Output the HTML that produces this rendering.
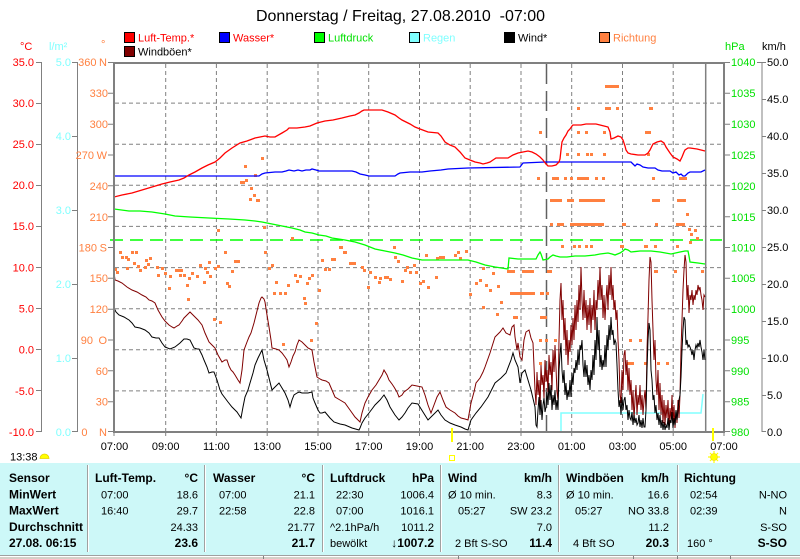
<!DOCTYPE html>
<html><head><meta charset="utf-8"><style>
html,body{margin:0;padding:0;background:#fff;width:800px;height:559px;overflow:hidden}
svg{display:block}
text{font-family:"Liberation Sans",Arial,sans-serif}
</style></head><body>
<svg width="800" height="559" viewBox="0 0 800 559" xmlns="http://www.w3.org/2000/svg">
<rect width="800" height="559" fill="#fff"/>
<!-- title -->
<text x="400.5" y="21" font-size="16" text-anchor="middle" fill="#000">Donnerstag / Freitag, 27.08.2010 &#160;-07:00</text>
<!-- legend -->
<g font-size="11">
<rect x="124.5" y="32.5" width="10" height="10" fill="#ff0000" stroke="#000"/><text x="138" y="41.5" fill="#ff0000">Luft-Temp.*</text>
<rect x="219.5" y="32.5" width="10" height="10" fill="#0000ff" stroke="#000"/><text x="233" y="41.5" fill="#ff0000">Wasser*</text>
<rect x="314.5" y="32.5" width="10" height="10" fill="#00ff00" stroke="#000"/><text x="328" y="41.5" fill="#00e000">Luftdruck</text>
<rect x="409.5" y="32.5" width="10" height="10" fill="#80ffff" stroke="#000"/><text x="423" y="41.5" fill="#80ffff">Regen</text>
<rect x="504.5" y="32.5" width="10" height="10" fill="#000" stroke="#000"/><text x="518" y="41.5" fill="#000">Wind*</text>
<rect x="599.5" y="32.5" width="10" height="10" fill="#ff8040" stroke="#000"/><text x="613" y="41.5" fill="#ff8040">Richtung</text>
<rect x="124.5" y="46.5" width="10" height="10" fill="#800000" stroke="#000"/><text x="138" y="55.5" fill="#000">Windböen*</text>
</g>
<!-- axis headers -->
<g font-size="11">
<text x="20" y="50" fill="#ff0000">°C</text>
<text x="49" y="50" fill="#80ffff">l/m²</text>
<text x="101" y="48" fill="#ff8040">°</text>
<text x="725" y="50" fill="#00e000">hPa</text>
<text x="762" y="50" fill="#000">km/h</text>
</g>
<!-- grid -->
<g stroke="#808080" stroke-width="1" stroke-dasharray="4,3" fill="none">
<line x1="115" x2="723" y1="103.1" y2="103.1"/>
<line x1="115" x2="723" y1="144.2" y2="144.2"/>
<line x1="115" x2="723" y1="185.3" y2="185.3"/>
<line x1="115" x2="723" y1="226.4" y2="226.4"/>
<line x1="115" x2="723" y1="267.6" y2="267.6"/>
<line x1="115" x2="723" y1="308.7" y2="308.7"/>
<line x1="115" x2="723" y1="349.8" y2="349.8"/>
<line x1="115" x2="723" y1="390.9" y2="390.9"/>
<line x1="165.7" x2="165.7" y1="64" y2="431"/>
<line x1="216.4" x2="216.4" y1="64" y2="431"/>
<line x1="267.2" x2="267.2" y1="64" y2="431"/>
<line x1="318" x2="318" y1="64" y2="431"/>
<line x1="368.7" x2="368.7" y1="64" y2="431"/>
<line x1="419.5" x2="419.5" y1="64" y2="431"/>
<line x1="470.2" x2="470.2" y1="64" y2="431"/>
<line x1="521" x2="521" y1="64" y2="431"/>
<line x1="571.7" x2="571.7" y1="64" y2="431"/>
<line x1="622.5" x2="622.5" y1="64" y2="431"/>
<line x1="673.2" x2="673.2" y1="64" y2="431"/>
</g>
<!-- midnight & now lines -->
<line x1="546.5" x2="546.5" y1="64" y2="431" stroke="#606060" stroke-width="1.5" stroke-dasharray="20,7"/>
<line x1="705.7" x2="705.7" y1="64" y2="431" stroke="#808080" stroke-width="1.5"/>
<!-- average pressure dashed -->
<line x1="110" x2="722" y1="240" y2="240" stroke="#00ff00" stroke-width="1.6" stroke-dasharray="13,7"/>
<defs><clipPath id="pc"><rect x="115" y="64" width="608" height="367"/></clipPath></defs>
<g clip-path="url(#pc)">
<!-- rain -->
<path d="M561,432 V413 H701 L703,394" stroke="#80ffff" stroke-width="1.5" fill="none"/>
<!-- direction dots -->
<g fill="#ff8040">
<rect x="114" y="268" width="3" height="3"/><rect x="116" y="271" width="3" height="3"/><rect x="119" y="251" width="3" height="3"/><rect x="121" y="256" width="3" height="3"/><rect x="125" y="256" width="3" height="3"/><rect x="127" y="258" width="3" height="3"/><rect x="131" y="251" width="3" height="3"/><rect x="135" y="251" width="3" height="3"/><rect x="133" y="262" width="3" height="3"/><rect x="137" y="265" width="3" height="3"/><rect x="144" y="266" width="3" height="3"/><rect x="145" y="259" width="3" height="3"/><rect x="147" y="263" width="3" height="3"/><rect x="156" y="266" width="3" height="3"/><rect x="149" y="257" width="3" height="3"/><rect x="161" y="267" width="3" height="3"/><rect x="164" y="272" width="3" height="3"/><rect x="169" y="275" width="3" height="3"/><rect x="168" y="287" width="3" height="3"/><rect x="177" y="269" width="3" height="3"/><rect x="180" y="269" width="3" height="3"/><rect x="179" y="274" width="3" height="3"/><rect x="183" y="274" width="3" height="3"/><rect x="186" y="284" width="3" height="3"/><rect x="187" y="298" width="3" height="3"/><rect x="188" y="277" width="3" height="3"/><rect x="191" y="272" width="3" height="3"/><rect x="196" y="275" width="3" height="3"/><rect x="199" y="264" width="3" height="3"/><rect x="203" y="281" width="3" height="3"/><rect x="206" y="271" width="3" height="3"/><rect x="208" y="261" width="3" height="3"/><rect x="209" y="275" width="3" height="3"/><rect x="214" y="267" width="3" height="3"/><rect x="217" y="265" width="3" height="3"/><rect x="213" y="318" width="3" height="3"/><rect x="219" y="321" width="3" height="3"/><rect x="217" y="229" width="3" height="3"/><rect x="224" y="251" width="3" height="3"/><rect x="226" y="282" width="3" height="3"/><rect x="228" y="285" width="3" height="3"/><rect x="234" y="260" width="6" height="3"/><rect x="240" y="181" width="5" height="3"/><rect x="244" y="165" width="3" height="3"/><rect x="245" y="179" width="3" height="3"/><rect x="250" y="187" width="3" height="3"/><rect x="253" y="194" width="3" height="3"/><rect x="249" y="198" width="3" height="3"/><rect x="256" y="199" width="4" height="3"/><rect x="254" y="174" width="3" height="3"/><rect x="261" y="157" width="3" height="3"/><rect x="263" y="226" width="3" height="3"/><rect x="264" y="251" width="3" height="3"/><rect x="268" y="267" width="3" height="3"/><rect x="271" y="264" width="3" height="3"/><rect x="275" y="281" width="3" height="3"/><rect x="273" y="292" width="3" height="3"/><rect x="279" y="292" width="3" height="3"/><rect x="284" y="292" width="3" height="3"/><rect x="287" y="284" width="3" height="3"/><rect x="291" y="237" width="3" height="3"/><rect x="294" y="274" width="3" height="3"/><rect x="296" y="280" width="3" height="3"/><rect x="299" y="275" width="3" height="3"/><rect x="303" y="297" width="3" height="3"/><rect x="304" y="302" width="3" height="3"/><rect x="308" y="277" width="3" height="3"/><rect x="311" y="274" width="3" height="3"/><rect x="306" y="282" width="3" height="3"/><rect x="318" y="289" width="3" height="3"/><rect x="315" y="322" width="3" height="3"/><rect x="310" y="339" width="3" height="3"/><rect x="282" y="343" width="3" height="3"/><rect x="321" y="259" width="3" height="3"/><rect x="324" y="268" width="3" height="3"/><rect x="328" y="268" width="3" height="3"/><rect x="331" y="258" width="5" height="3"/><rect x="339" y="246" width="4" height="3"/><rect x="343" y="251" width="4" height="3"/><rect x="349" y="262" width="7" height="3"/><rect x="361" y="266" width="3" height="3"/><rect x="363" y="269" width="3" height="3"/><rect x="367" y="286" width="3" height="3"/><rect x="369" y="271" width="3" height="3"/><rect x="374" y="276" width="3" height="3"/><rect x="378" y="281" width="3" height="3"/><rect x="379" y="277" width="3" height="3"/><rect x="384" y="276" width="5" height="3"/><rect x="389" y="278" width="3" height="3"/><rect x="393" y="246" width="3" height="3"/><rect x="394" y="256" width="3" height="3"/><rect x="397" y="260" width="3" height="3"/><rect x="401" y="280" width="3" height="3"/><rect x="404" y="269" width="3" height="3"/><rect x="406" y="266" width="3" height="3"/><rect x="409" y="271" width="3" height="3"/><rect x="413" y="264" width="3" height="3"/><rect x="415" y="271" width="3" height="3"/><rect x="419" y="282" width="3" height="3"/>
<rect x="126" y="267" width="3" height="3"/><rect x="139" y="269" width="3" height="3"/><rect x="157" y="274" width="3" height="3"/><rect x="175" y="269" width="3" height="3"/><rect x="204" y="267" width="3" height="3"/><rect x="231" y="270" width="3" height="3"/>
<rect x="612" y="61" width="4" height="3"/><rect x="605" y="85" width="14" height="3"/>
<rect x="577" y="107" width="3" height="3"/><rect x="605" y="107" width="3" height="3"/><rect x="608" y="107" width="3" height="3"/><rect x="616" y="107" width="3" height="3"/><rect x="649" y="107" width="4" height="3"/>
<rect x="539" y="131" width="3" height="3"/><rect x="577" y="131" width="3" height="3"/><rect x="585" y="131" width="3" height="3"/><rect x="603" y="131" width="3" height="3"/><rect x="645" y="131" width="6" height="3"/>
<rect x="566" y="153" width="3" height="3"/><rect x="577" y="153" width="3" height="3"/><rect x="586" y="153" width="3" height="3"/><rect x="590" y="153" width="3" height="3"/><rect x="603" y="153" width="3" height="3"/><rect x="647" y="153" width="3" height="3"/>
<rect x="537" y="177" width="3" height="3"/><rect x="552" y="177" width="7" height="3"/><rect x="564" y="177" width="3" height="3"/><rect x="570" y="177" width="3" height="3"/><rect x="577" y="177" width="12" height="3"/><rect x="595" y="177" width="3" height="3"/><rect x="602" y="177" width="3" height="3"/><rect x="652" y="177" width="3" height="3"/><rect x="679" y="177" width="8" height="3"/>
<rect x="550" y="199" width="12" height="3"/><rect x="567" y="199" width="7" height="3"/><rect x="579" y="199" width="26" height="3"/><rect x="652" y="199" width="8" height="3"/><rect x="677" y="199" width="9" height="3"/>
<rect x="686" y="213" width="3" height="3"/>
<rect x="550" y="223" width="3" height="3"/><rect x="557" y="223" width="7" height="3"/><rect x="570" y="223" width="34" height="3"/><rect x="622" y="223" width="4" height="3"/><rect x="655" y="223" width="3" height="3"/><rect x="676" y="223" width="9" height="3"/>
<rect x="688" y="228" width="3" height="3"/><rect x="694" y="229" width="3" height="3"/><rect x="690" y="233" width="3" height="3"/><rect x="696" y="237" width="3" height="3"/><rect x="689" y="241" width="3" height="3"/>
<rect x="561" y="245" width="3" height="3"/><rect x="573" y="245" width="3" height="3"/><rect x="578" y="245" width="3" height="3"/><rect x="585" y="245" width="3" height="3"/><rect x="590" y="245" width="3" height="3"/><rect x="620" y="245" width="4" height="3"/><rect x="644" y="245" width="4" height="3"/><rect x="654" y="245" width="3" height="3"/><rect x="676" y="245" width="3" height="3"/>
<rect x="439" y="256" width="3" height="3"/><rect x="442" y="256" width="3" height="3"/><rect x="435" y="276" width="3" height="3"/><rect x="457" y="251" width="3" height="3"/><rect x="465" y="250" width="3" height="3"/><rect x="482" y="267" width="3" height="3"/><rect x="492" y="272" width="3" height="3"/><rect x="475" y="282" width="3" height="3"/><rect x="479" y="279" width="3" height="3"/><rect x="485" y="284" width="3" height="3"/><rect x="489" y="289" width="3" height="3"/><rect x="497" y="285" width="3" height="3"/><rect x="469" y="293" width="3" height="3"/><rect x="500" y="301" width="3" height="3"/><rect x="482" y="306" width="3" height="3"/><rect x="496" y="313" width="3" height="3"/><rect x="422" y="280" width="3" height="3"/><rect x="427" y="286" width="3" height="3"/><rect x="436" y="257" width="3" height="3"/><rect x="425" y="254" width="3" height="3"/><rect x="454" y="254" width="3" height="3"/><rect x="459" y="257" width="3" height="3"/>
<rect x="507" y="270" width="8" height="3"/><rect x="522" y="270" width="12" height="3"/><rect x="547" y="270" width="5" height="3"/><rect x="654" y="270" width="4" height="3"/><rect x="674" y="270" width="3" height="3"/><rect x="701" y="270" width="3" height="3"/>
<rect x="510" y="292" width="25" height="3"/><rect x="540" y="292" width="4" height="3"/><rect x="546" y="292" width="3" height="3"/>
<rect x="513" y="316" width="5" height="3"/><rect x="540" y="316" width="7" height="3"/>
<rect x="539" y="339" width="3" height="3"/><rect x="545" y="339" width="3" height="3"/><rect x="554" y="339" width="3" height="3"/><rect x="629" y="339" width="3" height="3"/><rect x="639" y="339" width="3" height="3"/>
<rect x="539" y="362" width="3" height="3"/><rect x="627" y="362" width="7" height="3"/><rect x="644" y="362" width="3" height="3"/><rect x="657" y="362" width="3" height="3"/><rect x="666" y="362" width="3" height="3"/>
</g>
<!-- pressure -->
<polyline fill="none" stroke="#00ff00" stroke-width="1.3" points="114,209 129,211 140,211 152,212 165,214 175,216 190,217 209,218 229,219 245,220 255,221 262,222 272,224 282,226 292,228 300,230 305,232 312,233 319,235 326,236 332,238 345,240 355,242 365,245 370,247 375,249 385,251 395,253 403,255 412,258 422,260 440,260 468,260 476,262 485,265 495,267 508,269 509,258 518,259 530,259 536,259 538,255 540,252 541,254 543,260 548,259 550,257 553,255 556,256 560,257 567,257 575,256 585,256 595,255 600,254 608,253 612,254 615,255 620,253 623,251 625,249 628,250 631,252 640,251 651,251 660,252 671,254 680,252 685,251 688,251 689,256 690,262 698,263 705,264"/>
<!-- water -->
<polyline fill="none" stroke="#0000ff" stroke-width="1.3" points="114,176 259,176 262,174 265,173 275,172 282,172 286,171 289,170 294,171 298,170 302,171 306,170 310,170 312,169 316,170 319,171 352,171 356,172 360,174 365,175 369,176 395,176 398,174 400,173 410,172 422,172 430,171 441,170 448,169 468,168 520,167 523,163 545,162 631,162 633,164 635,166 637,164 640,165 643,167 648,168 655,168 658,170 662,171 666,171 670,171 673,173 676,172 679,175 681,174 683,176 685,176 688,173 690,172 701,172 705,170"/>
<!-- temp -->
<polyline fill="none" stroke="#ff0000" stroke-width="1.3" points="114,197 122,195 132,193 142,190 152,187 162,184 170,182 179,180 184,178 189,175 195,172 202,168 208,165 215,162 220,158 225,153 232,148 240,143 247,141 255,138 260,137 265,136 270,137 275,137 282,133 287,130 289,128 297,128 305,127 310,126 317,123 325,121 333,120 342,118 350,116 355,115 359,113 362,111 364,110 372,110 382,110 388,112 395,115 399,118 402,120 406,122 410,124 415,127 420,129 428,132 438,133 441,136 445,142 450,145 455,147 460,152 465,158 470,160 475,162 480,163 483,164 487,163 490,162 493,160 496,158 502,158 508,158 513,155 518,153 523,152 528,151 532,152 536,154 540,157 543,160 546,164 548,166 552,166 556,165 559,162 560,159 561,150 562,142 564,138 566,135 568,131 570,129 572,126 573,125 577,125 581,125 586,124 591,124 596,124 600,125 604,126 608,127 610,132 611,139 614,138 618,136 621,137 623,140 625,146 626,150 628,153 631,154 638,155 645,155 648,153 650,150 652,146 653,144 657,142 661,141 664,143 666,147 670,153 673,157 677,159 680,161 682,157 684,152 685,150 688,148 690,148 697,149 705,151"/>
<!-- gusts -->
<polyline fill="none" stroke="#800000" stroke-width="1" points="114,272 115,280 118,281 122,283 127,287 132,290 137,292 142,295 146,297 149,300 152,301 155,303 158,310 162,317 165,321 169,325 172,327 174,328 177,326 179,325 182,321 184,318 187,315 190,312 192,314 195,317 198,320 202,325 205,333 209,342 212,345 215,348 218,355 222,362 225,360 227,360 229,366 231,370 233,372 235,375 238,380 240,383 242,370 244,350 247,342 249,337 251,333 254,323 256,315 259,303 261,298 262,297 264,299 265,302 267,315 269,327 271,340 272,348 276,349 279,350 282,353 285,357 287,360 289,367 291,362 293,356 295,352 297,345 299,340 302,342 305,345 308,348 312,350 314,362 317,377 320,379 322,380 326,381 329,383 332,390 335,397 340,400 345,403 350,410 355,417 358,420 360,422 362,413 365,403 368,397 372,390 376,385 379,380 382,375 384,370 387,375 389,380 392,384 394,387 397,392 399,397 402,395 404,392 408,389 412,385 417,386 422,387 425,395 428,405 431,413 434,405 437,397 440,392 443,400 446,407 450,410 455,413 458,416 461,418 465,419 468,420 471,403 474,392 476,383 480,378 483,372 485,367 490,353 495,337 500,332 503,328 506,333 510,335 512,327 514,325 515,337 517,350 518,343 520,357 522,360 524,340 526,332 529,330 531,338 533,343 535,390 536,405 537,372 538,395 539,380 540,410 541,365 542,385 543,375 544,398 545,360 546,382 547,370 548,392 549,355 550,375 551,362 552,390 553,350 554,372 555,345 556,368 557,392 558,400 559,340 560,300 561,283 562,320 563,300 564,340 565,318 566,355 567,330 568,365 569,340 570,352 571,325 572,345 573,318 574,340 575,305 576,330 577,300 578,322 579,285 580,310 581,267 582,300 583,320 584,290 585,318 586,300 587,330 588,305 589,325 590,298 591,333 592,305 593,320 594,290 595,330 596,300 597,310 598,280 599,300 600,267 601,300 602,285 603,318 604,295 605,320 606,300 607,285 608,310 609,275 610,295 611,267 612,300 613,285 614,310 615,300 616,320 617,310 618,340 619,360 620,395 621,403 622,370 623,390 624,355 625,350 626,375 627,360 628,390 629,368 630,395 631,380 632,410 633,390 634,420 635,400 636,385 637,415 638,395 639,405 640,385 641,410 642,395 643,415 644,400 645,390 646,410 647,350 648,317 649,280 650,257 651,262 652,300 653,330 654,360 655,340 656,380 657,395 658,370 659,410 660,383 661,415 662,395 663,423 664,400 665,425 666,405 667,418 668,400 669,427 670,408 671,420 672,395 673,425 674,405 675,428 676,410 677,423 678,400 679,418 680,395 681,350 682,320 683,290 684,270 685,255 686,262 687,300 688,285 689,313 690,295 691,300 692,290 693,305 694,295 695,300 696,290 697,295 698,285 699,290 700,287 701,295 702,300 703,310 704,295 705,297"/>
<!-- wind -->
<polyline fill="none" stroke="#000" stroke-width="1" points="114,308 116,312 119,315 124,317 129,320 132,323 135,327 140,328 145,330 149,333 152,337 156,338 159,338 162,343 165,347 170,349 175,347 180,343 184,339 187,339 190,340 192,344 194,348 197,349 199,349 202,355 204,360 207,367 209,373 212,372 214,372 217,380 220,390 222,394 225,398 228,402 232,407 235,410 237,412 239,415 241,418 243,407 245,397 248,390 250,383 253,373 255,365 258,358 262,350 264,360 267,370 270,382 272,390 275,387 279,383 282,388 285,393 288,400 290,407 292,400 294,395 297,393 299,392 302,393 305,393 308,393 312,392 313,398 315,403 318,410 320,413 322,413 325,412 330,418 334,422 340,424 345,425 352,428 359,430 360,428 362,423 365,418 369,413 372,409 375,405 380,400 384,395 387,400 390,407 395,415 399,420 402,417 405,413 408,408 412,403 418,404 423,412 428,420 433,415 438,410 441,415 445,420 450,423 455,425 461,427 465,429 468,430 471,420 476,413 481,407 488,397 495,383 501,378 506,373 511,360 513,353 515,360 518,367 520,383 522,373 525,370 528,380 531,390 535,407 536,425 537,427 538,410 539,397 540,415 541,400 542,420 543,405 544,398 545,412 546,407 547,392 548,405 549,383 550,400 551,385 552,410 553,395 554,405 555,390 556,410 557,400 558,410 559,370 560,355 561,343 562,370 563,383 564,370 565,395 566,383 567,400 568,390 569,397 570,380 571,397 572,373 573,385 574,368 575,373 576,360 577,370 578,350 579,365 580,345 581,350 582,340 583,365 584,377 585,360 586,377 587,365 588,385 589,375 590,390 591,370 592,380 593,355 594,375 595,340 596,360 597,317 598,350 599,330 600,367 601,355 602,370 603,360 604,367 605,345 606,367 607,335 608,350 609,325 610,340 611,317 612,335 613,330 614,345 615,340 616,343 617,365 618,390 619,407 620,400 621,415 622,397 623,410 624,400 625,397 626,410 627,405 628,420 629,410 630,418 631,420 632,412 633,425 634,415 635,423 636,418 637,425 638,423 639,415 640,427 641,420 642,428 643,418 644,427 645,427 646,410 647,370 648,340 649,323 650,330 651,370 652,380 653,400 654,395 655,413 656,405 657,420 658,413 659,425 660,415 661,428 662,420 663,430 664,422 665,430 666,425 667,428 668,418 669,430 670,420 671,423 672,412 673,428 674,418 675,425 676,410 677,420 678,410 679,400 680,395 681,377 682,350 683,330 684,317 685,320 686,345 687,340 688,347 689,345 690,347 691,350 692,355 693,350 694,360 695,350 696,345 697,348 698,343 699,347 700,340 701,347 702,352 703,360 704,350 705,360"/>
</g>
<!-- frame -->
<rect x="114" y="63" width="610" height="369" fill="none" stroke="#808080" stroke-width="2"/>
<!-- left axes -->
<g stroke="#808080" stroke-width="1" fill="none">
<line x1="41.5" x2="41.5" y1="62" y2="432"/>
<line x1="77.5" x2="77.5" y1="62" y2="432"/>
<line x1="762" x2="762" y1="62" y2="432"/>
<line x1="757" x2="762" y1="62.5" y2="62.5"/>
<path d="M36,62.5h6M36,103.5h6M36,144.5h6M36,185.5h6M36,226.5h6M36,267.5h6M36,308.5h6M36,349.5h6M36,390.5h6M36,431.5h6"/>
<path d="M72,62.5h6M72,136.5h6M72,210.5h6M72,284.5h6M72,358.5h6M72,431.5h6"/>
<path d="M108,62.5h6M108,93.3h6M108,124.2h6M108,155h6M108,185.8h6M108,216.7h6M108,247.5h6M108,278.3h6M108,309.2h6M108,340h6M108,370.8h6M108,401.7h6M108,431.5h6"/>
<path d="M725,62.5h5M725,93.3h5M725,124.2h5M725,155h5M725,185.8h5M725,216.7h5M725,247.5h5M725,278.3h5M725,309.2h5M725,340h5M725,370.8h5M725,401.7h5M725,431.5h5"/>
<path d="M762,62.5h4M762,99.5h4M762,136.5h4M762,173.5h4M762,210.5h4M762,247.5h4M762,284.5h4M762,321.5h4M762,358.5h4M762,395.5h4M762,431.5h4"/>
<path d="M114,433v3M165.7,433v3M216.4,433v3M267.2,433v3M318,433v3M368.7,433v3M419.5,433v3M470.2,433v3M521,433v3M571.7,433v3M622.5,433v3M673.2,433v3M724,433v3"/>
</g>
<g font-size="11" fill="#ff0000" text-anchor="end">
<text x="34" y="66">35.0</text><text x="34" y="107">30.0</text><text x="34" y="148">25.0</text><text x="34" y="189">20.0</text><text x="34" y="230">15.0</text><text x="34" y="271.5">10.0</text><text x="34" y="312.5">5.0</text><text x="34" y="353.5">0.0</text><text x="34" y="395">-5.0</text><text x="34" y="436">-10.0</text>
</g>
<g font-size="11" fill="#80ffff" text-anchor="end">
<text x="71" y="66">5.0</text><text x="71" y="140">4.0</text><text x="71" y="214">3.0</text><text x="71" y="288">2.0</text><text x="71" y="362">1.0</text><text x="71" y="436">0.0</text>
</g>
<g font-size="11" fill="#ff8040" text-anchor="end">
<text x="96.5" y="66">360</text><text x="107" y="66">N</text>
<text x="108" y="97">330</text><text x="108" y="128">300</text>
<text x="94" y="159">270</text><text x="107" y="159">W</text>
<text x="108" y="190">240</text><text x="108" y="221">210</text>
<text x="97" y="251.5">180</text><text x="107" y="251.5">S</text>
<text x="108" y="282">150</text><text x="108" y="313">120</text>
<text x="93" y="344">90</text><text x="107" y="344">O</text>
<text x="108" y="375">60</text><text x="108" y="405.5">30</text>
<text x="87.5" y="436">0</text><text x="107" y="436">N</text>
</g>
<g font-size="11" fill="#00e000">
<text x="731" y="66">1040</text><text x="731" y="97">1035</text><text x="731" y="128">1030</text><text x="731" y="159">1025</text><text x="731" y="190">1020</text><text x="731" y="221">1015</text><text x="731" y="251.5">1010</text><text x="731" y="282">1005</text><text x="731" y="313">1000</text><text x="731" y="344">995</text><text x="731" y="375">990</text><text x="731" y="405.5">985</text><text x="731" y="436">980</text>
</g>
<g font-size="11" fill="#000">
<text x="767" y="66">50.0</text><text x="767" y="103">45.0</text><text x="767" y="140">40.0</text><text x="767" y="177">35.0</text><text x="767" y="214">30.0</text><text x="767" y="251">25.0</text><text x="767" y="288">20.0</text><text x="767" y="325">15.0</text><text x="767" y="362">10.0</text><text x="767" y="399">5.0</text><text x="767" y="436">0.0</text>
</g>
<!-- x labels -->
<g font-size="11" fill="#000" text-anchor="middle">
<text x="114.5" y="450">07:00</text><text x="165.7" y="450">09:00</text><text x="216.4" y="450">11:00</text><text x="267.2" y="450">13:00</text><text x="318" y="450">15:00</text><text x="368.7" y="450">17:00</text><text x="419.5" y="450">19:00</text><text x="470.2" y="450">21:00</text><text x="521" y="450">23:00</text><text x="571.7" y="450">01:00</text><text x="622.5" y="450">03:00</text><text x="673.2" y="450">05:00</text><text x="724" y="450">07:00</text>
</g>
<!-- yellow markers -->
<rect x="451" y="428" width="2" height="14" fill="#ffff00"/>
<rect x="712" y="428" width="2" height="13" fill="#ffff00"/>
<text x="10" y="460.5" font-size="11" fill="#000">13:38</text>
<path d="M40,458.5 A4.5,4.5 0 0 1 49,458.5 Z" fill="#ffff00" stroke="#e8d000" stroke-width="0.8"/>
<rect x="449.5" y="455.5" width="5" height="5" fill="none" stroke="#ffff00" stroke-width="1"/>
<g stroke="#ffff00" stroke-width="1.2">
<line x1="714" y1="451" x2="714" y2="463"/><line x1="708" y1="457" x2="720" y2="457"/><line x1="710" y1="453" x2="718" y2="461"/><line x1="718" y1="453" x2="710" y2="461"/>
</g>
<circle cx="714" cy="457" r="3.5" fill="#ffff00" stroke="#f0d000" stroke-width="0.6"/>
<!-- bottom panel -->
<rect x="0" y="463" width="800" height="92" fill="#cdf8f8"/>
<g stroke-width="1">
<line x1="87.5" x2="87.5" y1="465" y2="552" stroke="#a0a0a0"/><line x1="88.5" x2="88.5" y1="465" y2="552" stroke="#fff"/>
<line x1="204.5" x2="204.5" y1="465" y2="552" stroke="#a0a0a0"/><line x1="205.5" x2="205.5" y1="465" y2="552" stroke="#fff"/>
<line x1="322.5" x2="322.5" y1="465" y2="552" stroke="#a0a0a0"/><line x1="323.5" x2="323.5" y1="465" y2="552" stroke="#fff"/>
<line x1="440.5" x2="440.5" y1="465" y2="552" stroke="#a0a0a0"/><line x1="441.5" x2="441.5" y1="465" y2="552" stroke="#fff"/>
<line x1="558.5" x2="558.5" y1="465" y2="552" stroke="#a0a0a0"/><line x1="559.5" x2="559.5" y1="465" y2="552" stroke="#fff"/>
<line x1="677.5" x2="677.5" y1="465" y2="552" stroke="#a0a0a0"/><line x1="678.5" x2="678.5" y1="465" y2="552" stroke="#fff"/>
</g>
<rect x="0" y="555" width="800" height="4" fill="#d4d0c8"/>
<line x1="0" x2="800" y1="555.5" y2="555.5" stroke="#a0a0a0"/>
<line x1="0" x2="800" y1="556.5" y2="556.5" stroke="#fff"/>
<g stroke="#808080"><line x1="263.5" x2="263.5" y1="556" y2="559"/><line x1="458.5" x2="458.5" y1="556" y2="559"/><line x1="633.5" x2="633.5" y1="556" y2="559"/><line x1="677.5" x2="677.5" y1="556" y2="559"/><line x1="730.5" x2="730.5" y1="556" y2="559"/></g>
<g fill="#000">
<g font-size="12" font-weight="bold">
<text x="9" y="482">Sensor</text><text x="9" y="498.3">MinWert</text><text x="9" y="514.6">MaxWert</text><text x="9" y="530.9">Durchschnitt</text><text x="9" y="547.2">27.08. 06:15</text>
<text x="95" y="482">Luft-Temp.</text><text x="198" y="482" text-anchor="end">°C</text>
<text x="213" y="482">Wasser</text><text x="315" y="482" text-anchor="end">°C</text>
<text x="330" y="482">Luftdruck</text><text x="434" y="482" text-anchor="end">hPa</text>
<text x="448" y="482">Wind</text><text x="552" y="482" text-anchor="end">km/h</text>
<text x="566" y="482">Windböen</text><text x="669" y="482" text-anchor="end">km/h</text>
<text x="684" y="482">Richtung</text>
<text x="198" y="547.2" text-anchor="end">23.6</text>
<text x="315" y="547.2" text-anchor="end">21.7</text>
<text x="434" y="547.2" text-anchor="end">↓1007.2</text>
<text x="552" y="547.2" text-anchor="end">11.4</text>
<text x="669" y="547.2" text-anchor="end">20.3</text>
<text x="787" y="547.2" text-anchor="end">S-SO</text>
</g>
<g font-size="11">
<text x="101" y="498.3">07:00</text><text x="198" y="498.3" text-anchor="end">18.6</text>
<text x="101" y="514.6">16:40</text><text x="198" y="514.6" text-anchor="end">29.7</text>
<text x="198" y="530.9" text-anchor="end">24.33</text>
<text x="219" y="498.3">07:00</text><text x="315" y="498.3" text-anchor="end">21.1</text>
<text x="219" y="514.6">22:58</text><text x="315" y="514.6" text-anchor="end">22.8</text>
<text x="315" y="530.9" text-anchor="end">21.77</text>
<text x="336" y="498.3">22:30</text><text x="434" y="498.3" text-anchor="end">1006.4</text>
<text x="336" y="514.6">07:00</text><text x="434" y="514.6" text-anchor="end">1016.1</text>
<text x="330" y="530.9">^2.1hPa/h</text><text x="434" y="530.9" text-anchor="end">1011.2</text>
<text x="330" y="547.2">bewölkt</text>
<text x="448" y="498.3">Ø 10 min.</text><text x="552" y="498.3" text-anchor="end">8.3</text>
<text x="458" y="514.6">05:27</text><text x="552" y="514.6" text-anchor="end">SW 23.2</text>
<text x="552" y="530.9" text-anchor="end">7.0</text>
<text x="455" y="547.2">2 Bft S-SO</text>
<text x="566" y="498.3">Ø 10 min.</text><text x="669" y="498.3" text-anchor="end">16.6</text>
<text x="575" y="514.6">05:27</text><text x="669" y="514.6" text-anchor="end">NO 33.8</text>
<text x="669" y="530.9" text-anchor="end">11.2</text>
<text x="573" y="547.2">4 Bft SO</text>
<text x="690" y="498.3">02:54</text><text x="787" y="498.3" text-anchor="end">N-NO</text>
<text x="690" y="514.6">02:39</text><text x="787" y="514.6" text-anchor="end">N</text>
<text x="787" y="530.9" text-anchor="end">S-SO</text>
<text x="687" y="547.2">160 °</text>
</g>
</g>
</svg>
</body></html>
